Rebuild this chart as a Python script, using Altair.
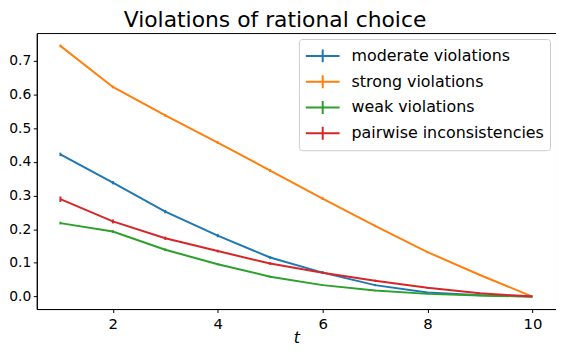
import altair as alt
import pandas as pd

t_values = [1, 2, 3, 4, 5, 6, 7, 8, 9, 10]
series_names = ["moderate violations", "strong violations", "weak violations", "pairwise inconsistencies"]
series_colors = ["#1f77b4", "#ff7f0e", "#2ca02c", "#d62728"]
chart_title = "Violations of rational choice"
y_ticks = [0.0, 0.1, 0.2, 0.3, 0.4, 0.5, 0.6, 0.7]
x_ticks = [2, 4, 6, 8, 10]

moderate = [0.422, 0.338, 0.252, 0.181, 0.116, 0.071, 0.034, 0.012, 0.004, 0.0]
strong = [0.744, 0.622, 0.538, 0.457, 0.374, 0.291, 0.210, 0.132, 0.064, 0.0]
weak = [0.218, 0.193, 0.139, 0.096, 0.059, 0.034, 0.018, 0.008, 0.003, 0.0]
pairwise = [0.289, 0.223, 0.173, 0.135, 0.098, 0.071, 0.047, 0.026, 0.010, 0.0]

moderate_err = [0.005, 0.005, 0.005, 0.005, 0.004, 0.004, 0.003, 0.002, 0.001, 0.0]
strong_err = [0.004, 0.004, 0.004, 0.004, 0.004, 0.004, 0.003, 0.003, 0.002, 0.0]
weak_err = [0.004, 0.004, 0.004, 0.003, 0.003, 0.002, 0.002, 0.001, 0.001, 0.0]
pairwise_err = [0.008, 0.006, 0.005, 0.004, 0.004, 0.003, 0.003, 0.002, 0.001, 0.0]

rows = []
for name, vals, errs in zip(series_names, [moderate, strong, weak, pairwise],
                            [moderate_err, strong_err, weak_err, pairwise_err]):
    for t, v, e in zip(t_values, vals, errs):
        rows.append({"t": t, "value": v, "lo": v - e, "hi": v + e, "series": name})
df = pd.DataFrame(rows)

FONT = "DejaVu Sans"

color = alt.Color("series:N",
                  scale=alt.Scale(domain=series_names, range=series_colors),
                  sort=series_names,
                  legend=alt.Legend(
                      title=None, orient="top-right", offset=6,
                      symbolType="M-1.7,0H1.7M0,-0.65V0.65",
                      symbolSize=400, symbolStrokeWidth=2,
                      symbolFillColor="transparent",
                      symbolOffset=7,
                      labelFont=FONT, labelFontSize=16, labelColor="black",
                      labelOffset=18,
                      padding=6, rowPadding=4,
                      strokeColor="#cccccc", fillColor="white",
                      cornerRadius=3, labelLimit=400))

x_scale = alt.Scale(domain=[0.55, 10.45], nice=False, zero=False)
y_scale = alt.Scale(domain=[-0.037, 0.782], nice=False, zero=False)

x_axis = alt.Axis(values=x_ticks, title="t", titleFontStyle="italic",
                  titleFont=FONT, titleFontSize=16, titleFontWeight="normal",
                  titleColor="black", titleBaseline="alphabetic", titleY=34,
                  format="d", labelFontSize=15, labelPadding=4)
y_axis = alt.Axis(values=y_ticks, format=".1f", title=None,
                  labelOverlap=False, labelFontSize=14, labelPadding=2.5)

lines = alt.Chart(df).mark_line(strokeWidth=2).encode(
    x=alt.X("t:Q", scale=x_scale, axis=x_axis),
    y=alt.Y("value:Q", scale=y_scale, axis=y_axis),
    color=color)
errs = alt.Chart(df).mark_rule(strokeWidth=2).encode(
    x=alt.X("t:Q", scale=x_scale, axis=x_axis),
    y=alt.Y("lo:Q", scale=y_scale, axis=y_axis), y2="hi:Q",
    color=alt.Color("series:N", scale=alt.Scale(domain=series_names, range=series_colors), legend=None))

title_df = pd.DataFrame({"label": [chart_title]})
title = alt.Chart(title_df).mark_text(
    font=FONT, fontSize=22, color="black", align="center", baseline="alphabetic"
).encode(text="label:N", x=alt.value(240), y=alt.value(-6))

chart = alt.layer(lines, errs, title).properties(
    width=523, height=278,
    autosize=alt.AutoSizeParams(type="none"),
    padding={"left": 29, "top": 24, "right": 0, "bottom": 38},
).configure_view(stroke="black", strokeWidth=1).configure_axis(
    grid=False, domainColor="black", domainWidth=1, tickColor="black", tickSize=3.5,
    labelFont=FONT, labelColor="black",
)

chart.save("out.html", embed_options={"renderer": "svg", "actions": False})
